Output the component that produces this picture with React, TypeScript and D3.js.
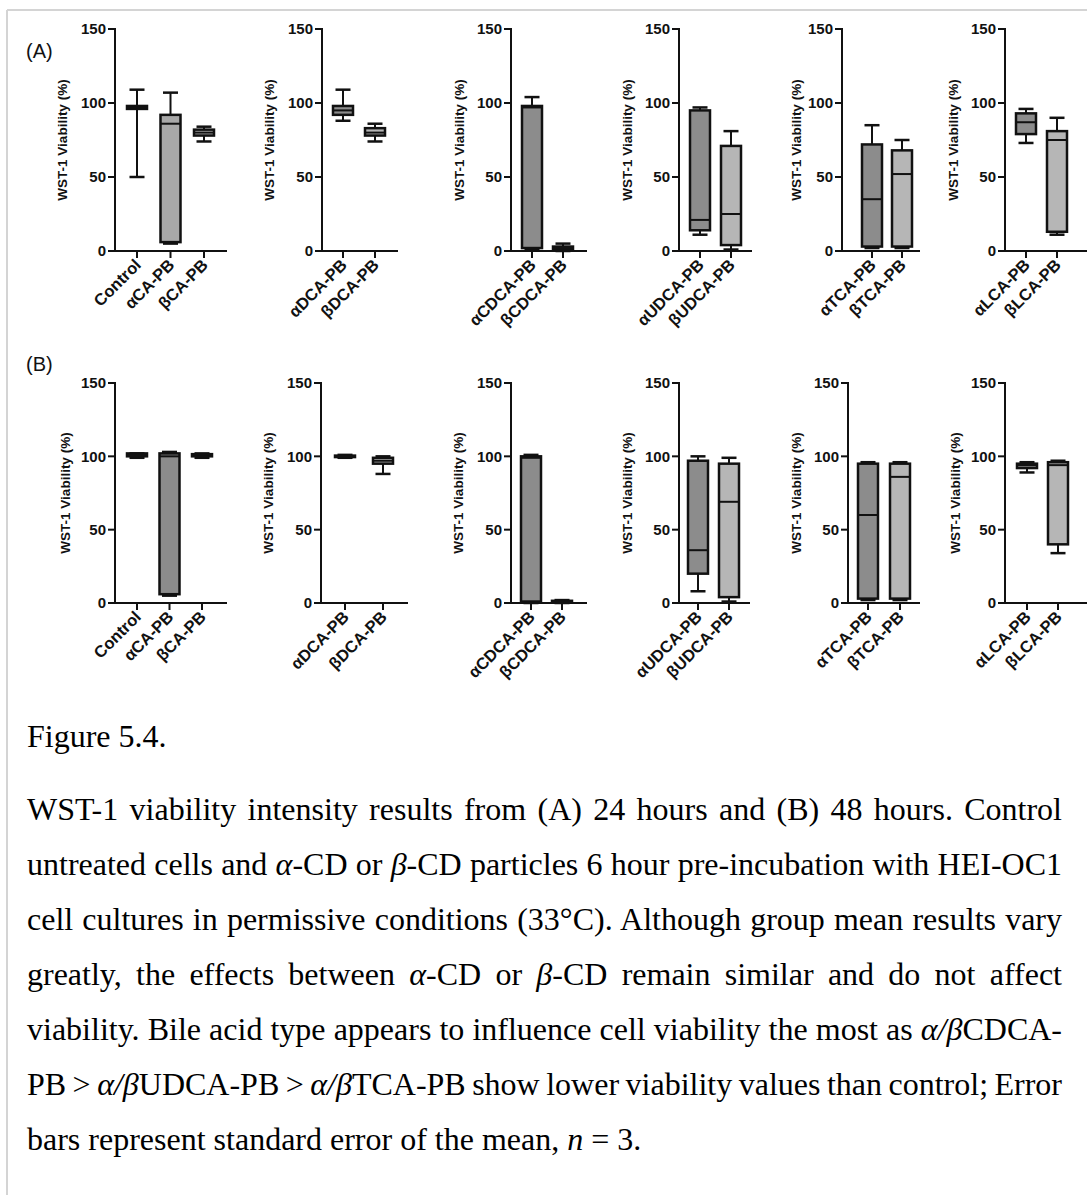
import React, { useLayoutEffect, useRef, useState } from "react";
import * as d3 from "d3";

const W = 1087;
const H = 1195;

// categories of the six small panels (same for both rows)
const groups: string[][] = [
  ["Control", "αCA-PB", "βCA-PB"],
  ["αDCA-PB", "βDCA-PB"],
  ["αCDCA-PB", "βCDCA-PB"],
  ["αUDCA-PB", "βUDCA-PB"],
  ["αTCA-PB", "βTCA-PB"],
  ["αLCA-PB", "βLCA-PB"],
];

const yTicks = [0, 50, 100, 150];
const yLabel = "WST-1 Viability (%)";
const panelTags = ["(A)", "(B)"];

// box stats [min, q1, median, q3, max] – (A) 24 hours
const stats24h: number[][][] = [
  [[50, 96, 97, 98, 109], [5, 6, 86, 92, 107], [74, 78, 80, 82, 84]],
  [[88, 92, 95, 98, 109], [74, 78, 80, 83, 86]],
  [[1, 2, 97, 98, 104], [0, 1, 2, 3, 5]],
  [[11, 14, 21, 95, 97], [1, 4, 25, 71, 81]],
  [[2, 3, 35, 72, 85], [2, 3, 52, 68, 75]],
  [[73, 79, 87, 93, 96], [11, 13, 75, 81, 90]],
];

// box stats [min, q1, median, q3, max] – (B) 48 hours
const stats48h: number[][][] = [
  [[99, 100, 101, 102, 102], [5, 6, 100, 102, 103], [99, 100, 101, 101.5, 102]],
  [[99, 99.5, 100, 100.5, 101], [88, 95, 97, 99, 100]],
  [[0, 1, 99, 100, 101], [0, 0.5, 1, 1.5, 2]],
  [[8, 20, 36, 97, 100], [1, 4, 69, 95, 99]],
  [[2, 3, 60, 95, 96], [2, 3, 86, 95, 96]],
  [[89, 92, 94, 95, 96], [34, 40, 94, 96, 97]],
];

const DARK = "#8c8c8c";
const LIGHT = "#b6b6b6";
const MID = "#a8a8a8";
const fills24h = [[LIGHT, MID, LIGHT], [DARK, LIGHT], [DARK, LIGHT], [DARK, LIGHT], [DARK, LIGHT], [DARK, LIGHT]];
const fills48h = [[LIGHT, DARK, LIGHT], [DARK, LIGHT], [DARK, LIGHT], [DARK, LIGHT], [DARK, LIGHT], [DARK, LIGHT]];

// layout (pixels)
const rows = [
  { top: 29, bottom: 251, tagY: 58, yLabelY: 140, stats: stats24h, fills: fills24h,
    axisX: [115, 322, 511, 679, 842, 1005], first: [137, 343, 532, 700, 872, 1026],
    step: [33.5, 32, 31, 31, 30, 31], end: [227, 398, 587, 752, 920, 1095],
    labelX: [63, 270, 460, 628, 797, 954] },
  { top: 383, bottom: 603, tagY: 371, yLabelY: 493, stats: stats48h, fills: fills48h,
    axisX: [115, 321, 511, 679, 848, 1005], first: [137, 345, 531, 698, 868, 1027],
    step: [32.5, 38, 31, 31, 32, 31], end: [227, 408, 587, 750, 920, 1095],
    labelX: [66, 269, 459, 628, 797, 956] },
];

type Seg = { t: string; i?: boolean };
const captionTitle = "Figure 5.4.";
const captionLines: Seg[][] = [
  [{ t: "WST-1 viability intensity results from (A) 24 hours and (B) 48 hours. Control" }],
  [{ t: "untreated cells and " }, { t: "α", i: true }, { t: "-CD or " }, { t: "β", i: true }, { t: "-CD particles 6 hour pre-incubation with HEI-OC1" }],
  [{ t: "cell cultures in permissive conditions (33°C). Although group mean results vary" }],
  [{ t: "greatly, the effects between " }, { t: "α", i: true }, { t: "-CD or " }, { t: "β", i: true }, { t: "-CD remain similar and do not affect" }],
  [{ t: "viability. Bile acid type appears to influence cell viability the most as " }, { t: "α/β", i: true }, { t: "CDCA-" }],
  [{ t: "PB > " }, { t: "α/β", i: true }, { t: "UDCA-PB > " }, { t: "α/β", i: true }, { t: "TCA-PB show lower viability values than control; Error" }],
  [{ t: "bars represent standard error of the mean, " }, { t: "n", i: true }, { t: " = 3." }],
];

const SANS = "'Liberation Sans', Arial, Helvetica, sans-serif";
const SERIF = "'Liberation Serif', 'Times New Roman', serif";
const INK = "#111";

function Panel({ row, p }: { row: (typeof rows)[number]; p: number }) {
  const cats = groups[p];
  const y = d3.scaleLinear().domain([0, 150]).range([row.bottom, row.top]);
  const x = d3
    .scalePoint<string>()
    .domain(cats)
    .range([row.first[p], row.first[p] + row.step[p] * (cats.length - 1)]);
  const ax = row.axisX[p];
  const bw = 20;
  const cw = 15;
  return (
    <g>
      {cats.map((c, i) => {
        const [mn, q1, md, q3, mx] = row.stats[p][i];
        const cx = x(c)!;
        return (
          <g key={c}>
            <line x1={cx} x2={cx} y1={y(mn)} y2={y(q1)} stroke={INK} strokeWidth={2} />
            <line x1={cx} x2={cx} y1={y(q3)} y2={y(mx)} stroke={INK} strokeWidth={2} />
            <line x1={cx - cw / 2} x2={cx + cw / 2} y1={y(mn)} y2={y(mn)} stroke={INK} strokeWidth={2.5} />
            <line x1={cx - cw / 2} x2={cx + cw / 2} y1={y(mx)} y2={y(mx)} stroke={INK} strokeWidth={2.5} />
            <rect x={cx - bw / 2} y={y(q3)} width={bw} height={Math.max(0, y(q1) - y(q3))}
              fill={row.fills[p][i]} stroke={INK} strokeWidth={2.5} />
            <line x1={cx - bw / 2} x2={cx + bw / 2} y1={y(md)} y2={y(md)} stroke={INK} strokeWidth={2} />
          </g>
        );
      })}
      <line x1={ax} x2={ax} y1={row.top - 1} y2={row.bottom} stroke={INK} strokeWidth={2} />
      {yTicks.map((t) => (
        <g key={t}>
          <line x1={ax - 7} x2={ax} y1={y(t)} y2={y(t)} stroke={INK} strokeWidth={2} />
          <text x={ax - 9} y={y(t)} dy="0.36em" textAnchor="end" fontFamily={SANS}
            fontWeight="bold" fontSize={15} fill={INK}>
            {t}
          </text>
        </g>
      ))}
      <line x1={ax} x2={row.end[p]} y1={row.bottom} y2={row.bottom} stroke={INK} strokeWidth={2} />
      {cats.map((c) => (
        <g key={c}>
          <line x1={x(c)!} x2={x(c)!} y1={row.bottom} y2={row.bottom + 7} stroke={INK} strokeWidth={2} />
          <text transform={`translate(${x(c)! + 5},${row.bottom + 15}) rotate(-45)`} textAnchor="end"
            fontFamily={SANS} fontWeight="bold" fontSize={16.5} fill={INK}>
            {c}
          </text>
        </g>
      ))}
      <text transform={`translate(${row.labelX[p] + 4},${row.yLabelY}) rotate(-90)`} textAnchor="middle"
        fontFamily={SANS} fontWeight="bold" fontSize={13.5} fill={INK}>
        {yLabel}
      </text>
    </g>
  );
}

function Caption() {
  const refs = useRef<(SVGTextElement | null)[]>([]);
  const [spacing, setSpacing] = useState<number[]>(captionLines.map(() => 0));
  const left = 27;
  const right = 1062;
  useLayoutEffect(() => {
    const sp = captionLines.map((segs, i) => {
      const el = refs.current[i];
      if (!el || i === captionLines.length - 1) return 0;
      const len = el.getComputedTextLength();
      const txt = segs.map((s) => s.t).join("");
      const n = (txt.match(/ /g) || []).length;
      return n > 0 ? (right - left - len) / n : 0;
    });
    setSpacing(sp);
  }, []);
  return (
    <g fontFamily={SERIF} fontSize={32} fill="#000">
      <text x={left} y={747}>{captionTitle}</text>
      {captionLines.map((segs, i) => (
        <text key={i} ref={(el) => { refs.current[i] = el; }} x={left} y={820 + i * 55}
          style={{ wordSpacing: spacing[i] ? `${spacing[i]}px` : undefined, whiteSpace: "pre" }}>
          {segs.map((s, j) => (
            <tspan key={j} fontStyle={s.i ? "italic" : undefined}>{s.t}</tspan>
          ))}
        </text>
      ))}
    </g>
  );
}

export default function App() {
  return (
    <div style={{ position: "absolute", left: 0, top: 0 }}>
      <svg width={W} height={H} style={{ display: "block" }}>
        <rect width={W} height={H} fill="#fff" />
        <line x1={7} x2={W} y1={10} y2={10} stroke="#d4d4d4" strokeWidth={2} />
        <line x1={7} x2={7} y1={10} y2={H} stroke="#d4d4d4" strokeWidth={2} />
        {rows.map((row, r) => (
          <g key={r}>
            <text x={26} y={row.tagY} fontFamily={SANS} fontSize={20} fill={INK}>{panelTags[r]}</text>
            {groups.map((_, p) => (
              <Panel key={p} row={row} p={p} />
            ))}
          </g>
        ))}
        <Caption />
      </svg>
    </div>
  );
}
